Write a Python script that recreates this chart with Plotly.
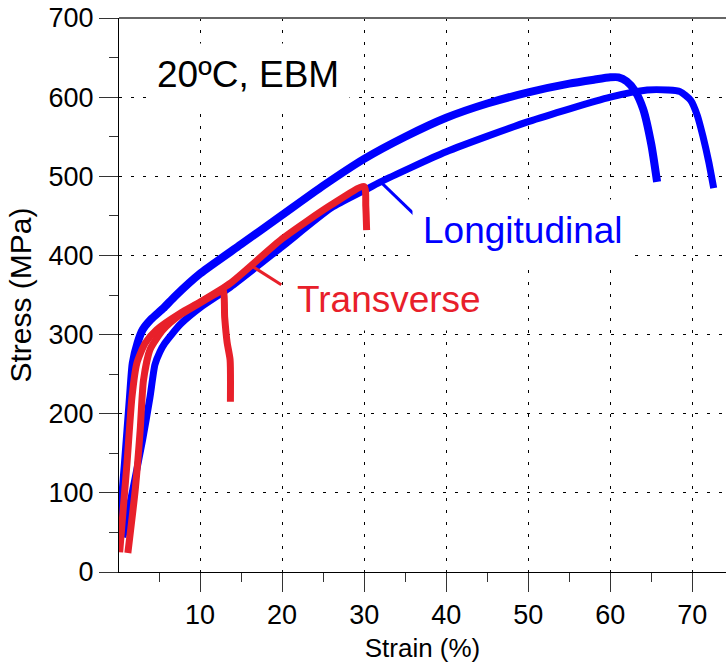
import plotly.graph_objects as go

# ---- data (strain %, stress MPa) ----
long1_strain = [0.15, 0.85, 1.46, 1.8, 2.4, 3.0, 4.0, 5.5, 7, 10, 15, 20, 25, 30, 35, 40, 45, 50, 55, 58, 60, 61, 62, 63, 64, 65, 65.7]
long1_stress = [49, 138, 221, 264, 290, 306, 319, 333, 349, 377, 414, 451, 488, 522, 550, 574, 592, 606, 617, 622, 625, 625, 620, 608, 585, 540, 493]

long2_strain = [0.6, 1.8, 3.0, 3.9, 4.5, 5.1, 5.7, 7.6, 10, 13.7, 20, 26, 30, 32, 40, 50, 60, 64.5, 67, 68.5, 69.8, 70.6, 71.3, 72.0, 72.6]
long2_stress = [44, 104, 167, 221, 262, 278, 289, 313, 334, 360, 411, 460, 482, 493, 531, 569, 600, 609, 609, 607, 596, 577, 550, 518, 485]

trans1_strain = [0.2, 1.1, 1.7, 2.3, 3.3, 4.7, 7.6, 10, 13.7, 20, 26, 30, 30.2, 30.3]
trans1_stress = [25, 138, 221, 264, 289, 306, 327, 341, 365, 421, 464, 487, 462, 432]

trans2_strain = [1.2, 2.1, 2.7, 3.1, 3.9, 5.5, 7.6, 10, 12.0, 12.8, 13.0, 13.3, 13.66, 13.7]
trans2_stress = [24, 104, 179, 242, 281, 306, 325, 340, 352, 356, 322, 290, 268, 215]

x_tickvals = [10, 20, 30, 40, 50, 60, 70]
y_tickvals = [0, 100, 200, 300, 400, 500, 600, 700]

# labels and leader lines (strain, stress)
long_leader = ([32.0, 36.2], [493, 451])
trans_leader = ([16.1, 19.9], [388, 363])
long_label = (35.8, 431, "Longitudinal")
trans_label = (20.5, 344, "Transverse")
title_label = (3.4, 628, "20ºC, EBM")

BLUE = "#0000ff"
RED = "#e8202a"
FONT = "Liberation Sans, Arial, Helvetica, sans-serif"

fig = go.Figure()
def curve(xs, ys, col, w):
    fig.add_trace(go.Scatter(x=xs, y=ys, mode="lines",
                             line=dict(color=col, width=w, shape="spline", smoothing=0.6),
                             showlegend=False))

curve(long2_strain, long2_stress, BLUE, 7)
curve(long1_strain, long1_stress, BLUE, 8)
curve(trans2_strain, trans2_stress, RED, 7)
curve(trans1_strain, trans1_stress, RED, 7)

# leader lines
fig.add_trace(go.Scatter(x=long_leader[0], y=long_leader[1], mode="lines",
                         line=dict(color=BLUE, width=3), showlegend=False))
fig.add_trace(go.Scatter(x=trans_leader[0], y=trans_leader[1], mode="lines",
                         line=dict(color=RED, width=3), showlegend=False))

for (lx, ly, txt), col in [(long_label, BLUE), (trans_label, RED), (title_label, "black")]:
    fig.add_annotation(x=lx, y=ly, text=txt, showarrow=False, xanchor="left", yanchor="middle",
                       font=dict(family=FONT, size=37, color=col),
                       bgcolor="white", borderpad=10)

# top frame line
fig.add_shape(type="line", xref="paper", yref="paper", x0=0, x1=1, y0=1, y1=1,
              line=dict(color="#666666", width=2))

fig.update_layout(
    width=726, height=667,
    margin=dict(l=119, r=0, t=18, b=95),
    plot_bgcolor="white", paper_bgcolor="white",
    font=dict(family=FONT, size=27, color="black"),
    xaxis=dict(range=[0.12, 74.1], tickvals=x_tickvals, ticks="outside", ticklen=19,
               tickwidth=1, tickcolor="#333", showline=True, linecolor="black", linewidth=1,
               showgrid=True, gridcolor="black", gridwidth=1, griddash="3px,9px",
               zeroline=False, tickfont=dict(size=27),
               minor=dict(dtick=5, tick0=0, ticks="outside", ticklen=9, tickcolor="#333", showgrid=False),
               title=dict(text="Strain (%)", font=dict(size=26), standoff=9)),
    yaxis=dict(range=[0, 700], tickvals=y_tickvals, ticks="outside", ticklen=19,
               tickwidth=1, tickcolor="#333", showline=True, linecolor="black", linewidth=1,
               showgrid=True, gridcolor="black", gridwidth=1, griddash="3px,9px",
               zeroline=False, tickfont=dict(size=27),
               minor=dict(dtick=50, tick0=0, ticks="outside", ticklen=9, tickcolor="#333", showgrid=False),
               title=dict(text="Stress (MPa)", font=dict(size=30), standoff=8)),
)

fig.write_html("out.html")
